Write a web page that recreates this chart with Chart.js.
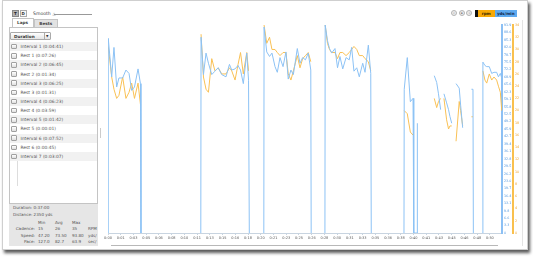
<!DOCTYPE html>
<html>
<head>
<meta charset="utf-8">
<script src="https://cdn.jsdelivr.net/npm/chart.js@4"></script>
<style>
  html, body { margin: 0; padding: 0; background: #fff; }
  body { width: 533px; height: 258px; position: relative; overflow: hidden; font-family: "DejaVu Sans", Verdana, sans-serif; color: #444; }
  .abs { position: absolute; }
  #frame { left: 2px; top: 0px; width: 524px; height: 248px; border: 1px solid #cfcfcf; box-shadow: 2px 3px 3px rgba(0,0,0,0.65); background: #fff; }
  .btn { top: 10px; width: 6.5px; height: 7px; font-size: 4px; font-weight: bold; line-height: 6.5px; text-align: center; box-sizing: border-box; }
  #panel { left: 8.5px; top: 26.5px; width: 89px; height: 177px; border: 1px solid #c4c4c4; box-sizing: border-box; background: #fff; }
  .tab { font-size: 4.2px; font-weight: bold; text-align: center; box-sizing: border-box; border: 1px solid #c4c4c4; border-bottom: none; color: #444; }
  .row { position: absolute; left: 9.5px; width: 87px; height: 9.15px; font-size: 4.4px; line-height: 9.15px; color: #555; }
  .row.alt { background: #f1f1f1; }
  .cb { position: absolute; left: 1.5px; top: 1.8px; width: 5.5px; height: 5.5px; border: 0.6px solid #a0a0a0; box-sizing: border-box; background: linear-gradient(#fff, #dedede); border-radius: 1px; }
  .row span { position: absolute; left: 11px; white-space: nowrap; }
  #stats { left: 8.5px; top: 203.5px; width: 89.5px; height: 42px; background: #e6e6e6; overflow: hidden; font-size: 4.1px; color: #555; }
  #stats div { position: absolute; white-space: nowrap; line-height: 5px; }
  .lg { top: 10px; height: 7px; font-size: 4px; font-weight: bold; line-height: 7px; text-align: center; }
  .circ { top: 10.3px; width: 6px; height: 6px; border-radius: 50%; background: #ececec; border: 0.6px solid #b4b4b4; box-sizing: border-box; font-size: 3px; line-height: 5px; text-align: center; color: #888; }
  #wrap { left: 100px; top: 0px; width: 427px; height: 250px; }
</style>
</head>
<body>
<div id="frame" class="abs"></div>

<div class="abs btn" style="left:12px; background:#b4b4b4; border:0.6px solid #888; color:#222;">T</div>
<div class="abs btn" style="left:20px; background:#f7f7f7; border:0.6px solid #aaa; color:#333;">D</div>
<div class="abs" style="left:33px; top:11px; font-size:4.6px; color:#444; line-height:5px;">Smooth</div>
<div class="abs" style="left:54px; top:14px; width:38px; height:0.8px; background:#999;"></div>
<div class="abs" style="left:52.5px; top:11px; font-size:4px; color:#777; line-height:5px;">&#9651;</div>

<div id="panel" class="abs"></div>
<div class="abs tab" style="left:11.5px; top:17.5px; width:22px; height:9.8px; background:#fff; line-height:8px;">Laps</div>
<div class="abs tab" style="left:33.5px; top:18.5px; width:24.5px; height:8px; background:#e2e2e2; line-height:7px;">Bests</div>

<div class="abs" style="left:10px; top:31.5px; width:41px; height:8px; border:0.8px solid #aaa; box-sizing:border-box; background:linear-gradient(#fff,#e4e4e4); border-radius:1px;">
  <div class="abs" style="left:3px; top:0; font-size:4.2px; font-weight:bold; line-height:7px; color:#333;">Duration</div>
  <div class="abs" style="left:32.5px; top:0.5px; width:0.6px; height:5.5px; background:#aaa;"></div>
  <div class="abs" style="left:35px; top:0; font-size:3.2px; line-height:7px; color:#333;">&#9660;</div>
</div>

<div id="laps"></div>
<div class="abs" style="left:16.5px; top:161px; width:0.6px; height:25px; background:#ddd;"></div>
<div class="abs" style="left:100px; top:128px; width:0.8px; height:10px; background:#ccc;"></div>

<div id="stats" class="abs">
  <div style="left:4.5px; top:1.5px;">Duration: 0:37:00</div>
  <div style="left:4.5px; top:8px;">Distance: 2350 yds</div>
  <div style="left:29.5px; top:16px;">Min</div>
  <div style="left:46.5px; top:16px;">Avg</div>
  <div style="left:63.5px; top:16px;">Max</div>
  <div style="right:63px; top:22.5px;">Cadence:</div>
  <div style="left:29.5px; top:22.5px;">15</div>
  <div style="left:46.5px; top:22.5px;">26</div>
  <div style="left:63.5px; top:22.5px;">35</div>
  <div style="left:79.5px; top:22.5px;">RPM</div>
  <div style="right:63px; top:29px;">Speed:</div>
  <div style="left:29.5px; top:29px;">47.20</div>
  <div style="left:46.5px; top:29px;">73.50</div>
  <div style="left:63.5px; top:29px;">93.80</div>
  <div style="left:79.5px; top:29px;">yds/</div>
  <div style="right:63px; top:35.5px;">Pace:</div>
  <div style="left:29.5px; top:35.5px;">127.0</div>
  <div style="left:46.5px; top:35.5px;">82.7</div>
  <div style="left:63.5px; top:35.5px;">63.9</div>
  <div style="left:79.5px; top:35.5px;">sec/</div>
</div>

<div class="abs circ" style="left:451px;">&laquo;</div>
<div class="abs circ" style="left:458.7px;">&#9642;</div>
<div class="abs circ" style="left:466.3px;">&raquo;</div>
<div class="abs" style="left:475px; top:10px; width:2.5px; height:7px; background:#111;"></div>
<div class="abs lg" style="left:477.5px; width:17.5px; background:#f8a906; color:#3a2a00;">rpm</div>
<div class="abs lg" style="left:495px; width:21.5px; background:#5eaaf0; color:#12264d;">yds/min</div>

<div id="wrap" class="abs"><canvas id="chart" width="427" height="250"></canvas></div>
<div class="abs" style="left:111px; top:245px; width:387px; height:0.8px; background:#b8b8b8;"></div>
<div class="abs" style="left:522px; top:20px; width:0.6px; height:226px; background:#e4e4e4;"></div>

<script>
const lapNames = ["Interval 1", "Rest 1", "Interval 2", "Rest 2", "Interval 3", "Rest 3", "Interval 4",
  "Rest 4", "Interval 5", "Rest 5", "Interval 6", "Rest 6", "Interval 7"];
const lapDurations = ["0:04:41", "0:07:26", "0:06:45", "0:01:34", "0:06:25", "0:01:31", "0:06:23",
  "0:03:59", "0:01:42", "0:00:01", "0:07:52", "0:00:45", "0:03:07"];

// elapsed seconds; null rows separate the laps
const times = [
  0, 2, 29, 47, 68, 86, 115, 141, 165, 186, 208, 236, 255, 259, 490,
  729, 731, 750, 770, 789, 815, 840, 866, 893, 927, 954, 972, 998, 1021, 1041, 1063, 1090, 1104, 1110, 1165,
  1224, 1226, 1247, 1269, 1288, 1312, 1330, 1351, 1375, 1398, 1416, 1437, 1456, 1487, 1508, 1529, 1551, 1573, 1593, 1596, 1650,
  1704, 1706, 1724, 1740, 1757, 1783, 1803, 1822, 1844, 1870, 1895, 1914, 1932, 1954, 1974, 2001, 2019, 2045, 2064, 2068, 2200,
  2325, 2327, 2351, 2375, 2396, 2402, 2429, 2430, 2500,
  2563, 2582, 2596, 2613, 2626,
  2639, 2660, 2675, 2686, 2700, 2717,
  2734, 2759, 2770, 2786, 2820,
  2855, 2867, 2870, 2905,
  2943, 2945, 2961, 2975, 2995, 3014, 3032, 3053, 3067, 3082, 3093
];
const speedYds = [
  0, 86, 69, 82, 64.5, 68.5, 68.5, 72, 70.5, 63, 64.5, 72.5, 66, 0, null,
  0, 86.5, 70, 79.5, 75, 70, 71.5, 73, 70, 69, 74.5, 72, 72.5, 74, 72, 66, 79.5, 67.5, 0, null,
  0, 91, 80, 78, 79.5, 73.5, 71, 77.5, 73.5, 80, 68, 72, 70, 81.5, 75, 77.5, 76.5, 79.5, 72, 0, null,
  0, 92, 85, 81.5, 79.5, 81.5, 73, 78, 72.5, 77.5, 76.5, 82, 71.5, 73, 69, 75, 71, 83, 70.5, 0, null,
  0, 63.5, 77.5, 58, 59.5, 0, 0, 48.5, null,
  69.5, 66.5, 61.5, 54.5, null,
  61.5, 57.5, 54.5, 51.5, 48.5, null,
  66, 64, 56.5, 46.5, null,
  63.5, 63.5, 0, null,
  0, 75.5, 74, 73.5, 73.5, 70.5, 71, 71, 69, 70.5, 68.5
];
const cadenceRpm = [
  null, 30.5, 25.5, 23.5, 22, 22.5, 25.5, 22, 23, 24.5, 22, 24.5, 21, null, null,
  null, 32.5, 25.5, 23.5, 23, 28.5, 26.5, 27, 26, 26, 27, 26.5, 25, 27.5, 29.5, 26, 29.5, 26.5, null, null,
  null, 34, 31, 32, 30, 30, 29.5, 29, 29.5, 29.5, 26, 25, 26.5, 29, 27, 28.5, 29, 29.5, 28, null, null,
  null, 34, 31, 30, 29.5, 29.5, 28.5, 29.5, 29.5, 29, 29.5, 30, 30.5, 30, 29, 29, 28.5, 28, 26.5, null, null,
  null, 20, 19.5, 16.5, 16, null, null, null, null,
  22, 20.5, 21.5, 22, null,
  22, 18.5, 17, 17.5, 17.5, null,
  15, 21.5, 20, 17.5, null,
  19, 19, null, null,
  null, 26.5, 25, 24.5, 26, 25, 25.5, 25, 24, 23, 20
];
// one label every 100 s
const timeTickLabels = ["0:00", "0:01", "0:03", "0:05", "0:06", "0:08", "0:10", "0:11", "0:13", "0:15", "0:16",
  "0:18", "0:20", "0:21", "0:23", "0:25", "0:26", "0:28", "0:30", "0:31", "0:33", "0:35", "0:36", "0:38", "0:40",
  "0:41", "0:43", "0:45", "0:46", "0:48", "0:50"];
const speedTickLabels = ["0", "3.3", "6.6", "9.8", "13.1", "16.4", "19.7", "23.0", "26.2", "29.5", "32.8", "36.1",
  "39.4", "42.7", "45.9", "49.2", "52.5", "55.8", "59.1", "62.3", "65.6", "68.9", "72.2", "75.5", "78.7", "82.0",
  "85.3", "88.6", "91.9"];

const laps = document.getElementById("laps");
lapNames.forEach((name, i) => {
  const row = document.createElement("div");
  row.className = "row" + (i % 2 === 0 ? " alt" : "");
  row.style.top = (42.1 + i * 9.15) + "px";
  row.innerHTML = `<div class="cb"></div><span>${name} (${lapDurations[i]})</span>`;
  laps.appendChild(row);
});

const toPoints = vals => times.map((t, i) => ({ x: t, y: vals[i] }));

new Chart(document.getElementById("chart").getContext("2d"), {
  type: "line",
  data: {
    datasets: [
      {
        label: "yds/min",
        data: toPoints(speedYds),
        borderColor: "#8cc2f5",
        borderWidth: 1,
        pointRadius: 0,
        yAxisID: "y",
        order: 1
      },
      {
        label: "rpm",
        data: toPoints(cadenceRpm),
        borderColor: "#f9c155",
        borderWidth: 1,
        pointRadius: 0,
        yAxisID: "y1",
        order: 2
      }
    ]
  },
  options: {
    responsive: false,
    animation: false,
    devicePixelRatio: 1,
    layout: { padding: { left: 8, top: 25, right: 2, bottom: 3 } },
    plugins: { legend: { display: false }, tooltip: { enabled: false } },
    scales: {
      x: {
        type: "linear",
        min: 0,
        max: 3095,
        afterBuildTicks: s => { s.ticks = timeTickLabels.map((l, i) => ({ value: i * 100 })); },
        afterFit: s => { s.height = 14; },
        ticks: { autoSkip: false, maxRotation: 0, padding: 1, color: "#555",
          font: { size: 3.5, family: "DejaVu Sans" }, callback: (v, i) => timeTickLabels[i] },
        grid: { drawOnChartArea: false, tickLength: 2, color: "#c8d4e0" },
        border: { color: "#c8d4e0" }
      },
      y: {
        position: "right",
        min: 0,
        max: 91.9,
        afterBuildTicks: s => { s.ticks = speedTickLabels.map(l => ({ value: parseFloat(l) })); },
        afterFit: s => { s.width = 11; },
        ticks: { padding: 2, color: "#4f95dd", font: { size: 3.3, family: "DejaVu Sans" },
          callback: (v, i) => speedTickLabels[i] },
        grid: { drawOnChartArea: false, drawTicks: false },
        border: { color: "#8cc0f4", width: 2 }
      },
      y1: {
        position: "right",
        min: 0,
        max: 34,
        afterFit: s => { s.width = 12; },
        ticks: { stepSize: 2, padding: 2, color: "#eea22a", font: { size: 3.3, family: "DejaVu Sans" } },
        grid: { drawOnChartArea: false, drawTicks: false },
        border: { color: "#f9c04e", width: 2 }
      }
    }
  }
});
</script>
</body>
</html>
